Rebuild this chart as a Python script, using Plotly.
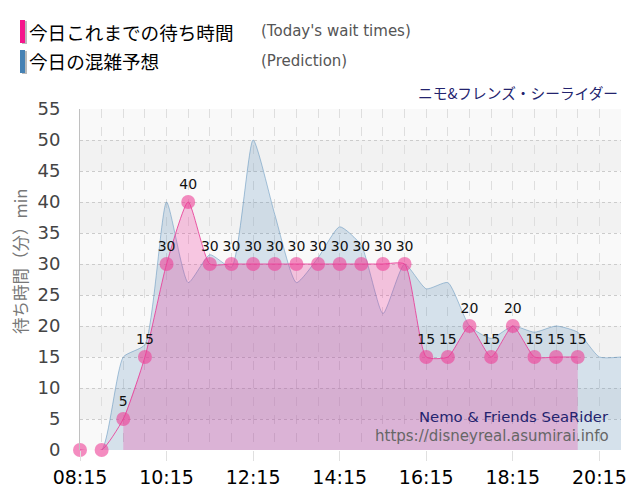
import plotly.graph_objects as go

DAY = "2024-01-01 "

# Prediction (30-min steps)
pred_times = ["08:15", "08:45", "09:15", "09:45", "10:15", "10:45", "11:15", "11:45",
              "12:15", "12:45", "13:15", "13:45", "14:15", "14:45", "15:15", "15:45",
              "16:15", "16:45", "17:15", "17:45", "18:15", "18:45", "19:15", "19:45",
              "20:15", "20:45"]
pred_values = [0, 0, 15, 17, 40, 27, 31.5, 29.5,
               50, 38, 27, 31, 36, 33, 22, 30,
               26, 27, 20, 18, 20, 19, 20, 19,
               15, 15]

# Today's actual wait times
act_times = ["08:15", "08:45", "09:15", "09:45", "10:15", "10:45", "11:15", "11:45",
             "12:15", "12:45", "13:15", "13:45", "14:15", "14:45", "15:15", "15:45",
             "16:15", "16:45", "17:15", "17:45", "18:15", "18:45", "19:15", "19:45"]
act_values = [0, 0, 5, 15, 30, 40, 30, 30,
              30, 30, 30, 30, 30, 30, 30, 30,
              15, 15, 20, 15, 20, 15, 15, 15]
fill_start = 2  # actual fill begins at 09:15

y_ticks = [0, 5, 10, 15, 20, 25, 30, 35, 40, 45, 50, 55]
band_edges = [(5, 10), (15, 20), (25, 30), (35, 40), (45, 50)]

title_jp = "ニモ&フレンズ・シーライダー"
title_en = "Nemo & Friends SeaRider"
site = "https://disneyreal.asumirai.info"
y_title = "待ち時間（分）min"
legend_items = [("今日これまでの待ち時間", "(Today's wait times)", "#f5168c"),
                ("今日の混雑予想", "(Prediction)", "#4682b4")]

px = [DAY + t for t in pred_times]
ax = [DAY + t for t in act_times]

LATIN = "DejaVu Sans, Noto Sans CJK JP"
CJK = "Noto Sans CJK JP, DejaVu Sans"

# page offset (body margin) and layout geometry
OFF = 8
W, H = 632, 492
L, R, T, B = 72, 19, 101, 50
PW, PH = W - L - R, H - T - B


def pxx(sx):
    return (sx - OFF - L) / PW


def pyy(sy):
    return 1 - (sy - OFF - T) / PH


SMOOTH = 0.55

fig = go.Figure()
fig.add_trace(go.Scatter(
    x=px, y=pred_values, mode="lines", fill="tozeroy",
    line=dict(color="rgba(70,130,180,0.45)", width=1, shape="spline", smoothing=SMOOTH),
    fillcolor="rgba(70,130,180,0.2)", hoverinfo="skip", showlegend=False))
fig.add_trace(go.Scatter(
    x=ax[fill_start:], y=act_values[fill_start:], mode="lines", fill="tozeroy",
    line=dict(color="rgba(0,0,0,0)", width=0, shape="spline", smoothing=SMOOTH),
    fillcolor="rgba(240,20,140,0.22)", hoverinfo="skip", showlegend=False))
fig.add_trace(go.Scatter(
    x=ax, y=act_values, mode="lines+markers+text",
    line=dict(color="rgba(233,60,150,0.85)", width=1, shape="spline", smoothing=SMOOTH),
    marker=dict(size=14, color="rgba(236,64,150,0.6)"),
    text=[str(v) if v > 0 else "" for v in act_values],
    textposition="top center",
    textfont=dict(family=LATIN, size=14, color="#111"),
    cliponaxis=False, showlegend=False))

shapes = []
for lo, hi in band_edges:
    shapes.append(dict(type="rect", xref="paper", yref="y", x0=0, x1=1, y0=lo, y1=hi,
                       fillcolor="#f2f2f2", line=dict(width=0), layer="below"))
# legend colour bars
for i, (_, _, col) in enumerate(legend_items):
    y0 = 20 + i * 30
    shapes.append(dict(type="rect", xref="paper", yref="paper",
                       x0=pxx(22), x1=pxx(27), y0=pyy(y0 + 24), y1=pyy(y0 + 1),
                       fillcolor="#bbbbbb", line=dict(width=0), layer="above"))
    shapes.append(dict(type="rect", xref="paper", yref="paper",
                       x0=pxx(20), x1=pxx(25), y0=pyy(y0 + 23), y1=pyy(y0),
                       fillcolor=col, line=dict(width=0), layer="above"))

annotations = []
for i, (jp, en, _) in enumerate(legend_items):
    yc = 31 + i * 30
    annotations.append(dict(xref="paper", yref="paper", x=pxx(27), y=pyy(yc),
                            xanchor="left", yanchor="middle", showarrow=False, text=jp,
                            font=dict(family=CJK, size=18.6, color="#000")))
    annotations.append(dict(xref="paper", yref="paper", x=pxx(259), y=pyy(yc),
                            xanchor="left", yanchor="middle", showarrow=False, text=en,
                            font=dict(family=LATIN, size=15, color="#555")))
annotations.append(dict(xref="paper", yref="paper", x=pxx(620), y=pyy(92),
                        xanchor="right", yanchor="middle", showarrow=False, text=title_jp,
                        font=dict(family=CJK, size=14.7, color="#23236e")))
annotations.append(dict(xref="paper", yref="paper", x=pxx(611), y=pyy(416),
                        xanchor="right", yanchor="middle", showarrow=False, text=title_en,
                        font=dict(family=LATIN, size=14.8, color="#23236e")))
annotations.append(dict(xref="paper", yref="paper", x=pxx(611), y=pyy(436),
                        xanchor="right", yanchor="middle", showarrow=False, text=site,
                        font=dict(family=LATIN, size=15, color="#666")))
annotations.append(dict(xref="paper", yref="paper", x=pxx(20), y=pyy(262),
                        xanchor="center", yanchor="middle", showarrow=False, text=y_title,
                        textangle=-90, font=dict(family=CJK, size=16.5, color="#777")))

fig.update_layout(
    width=W, height=H,
    margin=dict(l=L, r=R, t=T, b=B, pad=0),
    paper_bgcolor="white", plot_bgcolor="#f9f9f9",
    shapes=shapes, annotations=annotations,
    showlegend=False,
    xaxis=dict(
        type="date", range=[DAY + "08:15", DAY + "20:45"],
        tick0=DAY + "08:15", dtick=7200000, tickformat="%H:%M",
        tickfont=dict(family=LATIN, size=19, color="#000"),
        showgrid=True, gridcolor="#dedede", griddash="dash", gridwidth=1,
        ticks="outside", ticklen=10, tickcolor="#e0e0e0",
        showline=False, zeroline=False,
        minor=dict(dtick=1800000, tick0=DAY + "08:15", showgrid=True,
                   gridcolor="#dedede", griddash="dash", gridwidth=1),
    ),
    yaxis=dict(
        range=[0, 55], tickvals=y_ticks,
        tickfont=dict(family=LATIN, size=18, color="#444"),
        showgrid=True, gridcolor="#cccccc", griddash="dot", gridwidth=1,
        showline=True, linecolor="#c0c0c0", linewidth=1,
        zeroline=False, ticks="", ticklabelstandoff=15,
    ),
)

fig.write_html("out.html")
